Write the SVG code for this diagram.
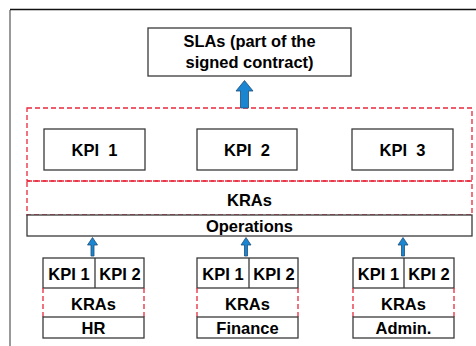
<svg xmlns="http://www.w3.org/2000/svg" width="476" height="346" viewBox="0 0 476 346">
<style>
.box{fill:#fff;stroke:#3a3a3a;stroke-width:1.3}
.dash{fill:none;stroke:#e8283c;stroke-width:1.3;stroke-dasharray:5,3}
.t{font-family:"Liberation Sans",Arial,sans-serif;font-weight:bold;font-size:16.5px;fill:#000;text-anchor:middle}
.arr{fill:#1a85d0;stroke:#1f4e79;stroke-width:0.8}
</style>
<rect width="476" height="346" fill="#fff"/>
<g id="frame">
<line x1="10" y1="10" x2="10" y2="346" stroke="#777" stroke-width="1.5"/>
<line x1="10" y1="9.5" x2="476" y2="9.5" stroke="#111" stroke-width="1.5"/>
</g>
<g id="sla">
<rect class="box" x="148" y="28" width="203" height="48"/>
<text class="t" x="249.5" y="47" textLength="132" lengthAdjust="spacingAndGlyphs">SLAs (part of the</text>
<text class="t" x="249.5" y="68" textLength="128" lengthAdjust="spacingAndGlyphs">signed contract)</text>
</g>
<g id="kpi-group">
<rect class="dash" x="27" y="108" width="445" height="73"/>
<g id="kpi1"><rect class="box" x="44" y="129" width="101" height="41"/><text class="t" x="94.5" y="156" xml:space="preserve" style="white-space:pre">KPI  1</text></g>
<g id="kpi2"><rect class="box" x="197" y="129" width="100" height="41"/><text class="t" x="247" y="156" xml:space="preserve" style="white-space:pre">KPI  2</text></g>
<g id="kpi3"><rect class="box" x="352" y="129" width="101" height="41"/><text class="t" x="402.5" y="156" xml:space="preserve" style="white-space:pre">KPI  3</text></g>
</g>
<g id="kras">
<rect class="dash" x="27" y="181" width="445" height="34"/>
<text class="t" x="249.5" y="206">KRAs</text>
</g>
<g id="operations">
<rect class="box" x="27" y="215" width="445" height="21"/>
<text class="t" x="249.5" y="232">Operations</text>
</g>
<g id="hr">
<rect class="box" x="43" y="258" width="101" height="30"/>
<line x1="95" y1="258" x2="95" y2="288" stroke="#3a3a3a" stroke-width="1.3"/>
<text class="t" x="69" y="279.5">KPI 1</text><text class="t" x="120" y="279.5">KPI 2</text>
<line class="dash" x1="43" y1="288" x2="43" y2="317"/><line class="dash" x1="144" y1="288" x2="144" y2="317"/>
<text class="t" x="93.5" y="309.5">KRAs</text>
<rect class="box" x="43" y="317" width="101" height="21"/>
<text class="t" x="93.5" y="334">HR</text>
</g>
<g id="finance">
<rect class="box" x="197" y="258" width="101" height="30"/>
<line x1="249" y1="258" x2="249" y2="288" stroke="#3a3a3a" stroke-width="1.3"/>
<text class="t" x="223" y="279.5">KPI 1</text><text class="t" x="274" y="279.5">KPI 2</text>
<line class="dash" x1="197" y1="288" x2="197" y2="317"/><line class="dash" x1="298" y1="288" x2="298" y2="317"/>
<text class="t" x="247.5" y="309.5">KRAs</text>
<rect class="box" x="197" y="317" width="101" height="21"/>
<text class="t" x="247.5" y="334">Finance</text>
</g>
<g id="admin">
<rect class="box" x="353" y="258" width="101" height="30"/>
<line x1="404" y1="258" x2="404" y2="288" stroke="#3a3a3a" stroke-width="1.3"/>
<text class="t" x="378.5" y="279.5">KPI 1</text><text class="t" x="429" y="279.5">KPI 2</text>
<line class="dash" x1="353" y1="288" x2="353" y2="317"/><line class="dash" x1="454" y1="288" x2="454" y2="317"/>
<text class="t" x="403.5" y="309.5">KRAs</text>
<rect class="box" x="353" y="317" width="101" height="21"/>
<text class="t" x="403.5" y="334">Admin.</text>
</g>
<g id="connectors">
<path class="arr" d="M240.5,108 V91 H236 L244.5,80.5 L253,91 H248.5 V108 Z"/>
<path class="arr" d="M91,256 V245 H87.5 L92.5,237.5 L97.5,245 H94 V256 Z"/>
<path class="arr" d="M244.5,256 V245 H241 L246,237.5 L251,245 H247.5 V256 Z"/>
<path class="arr" d="M401.5,256 V245 H398 L403,237.5 L408,245 H404.5 V256 Z"/>
</g>
</svg>
